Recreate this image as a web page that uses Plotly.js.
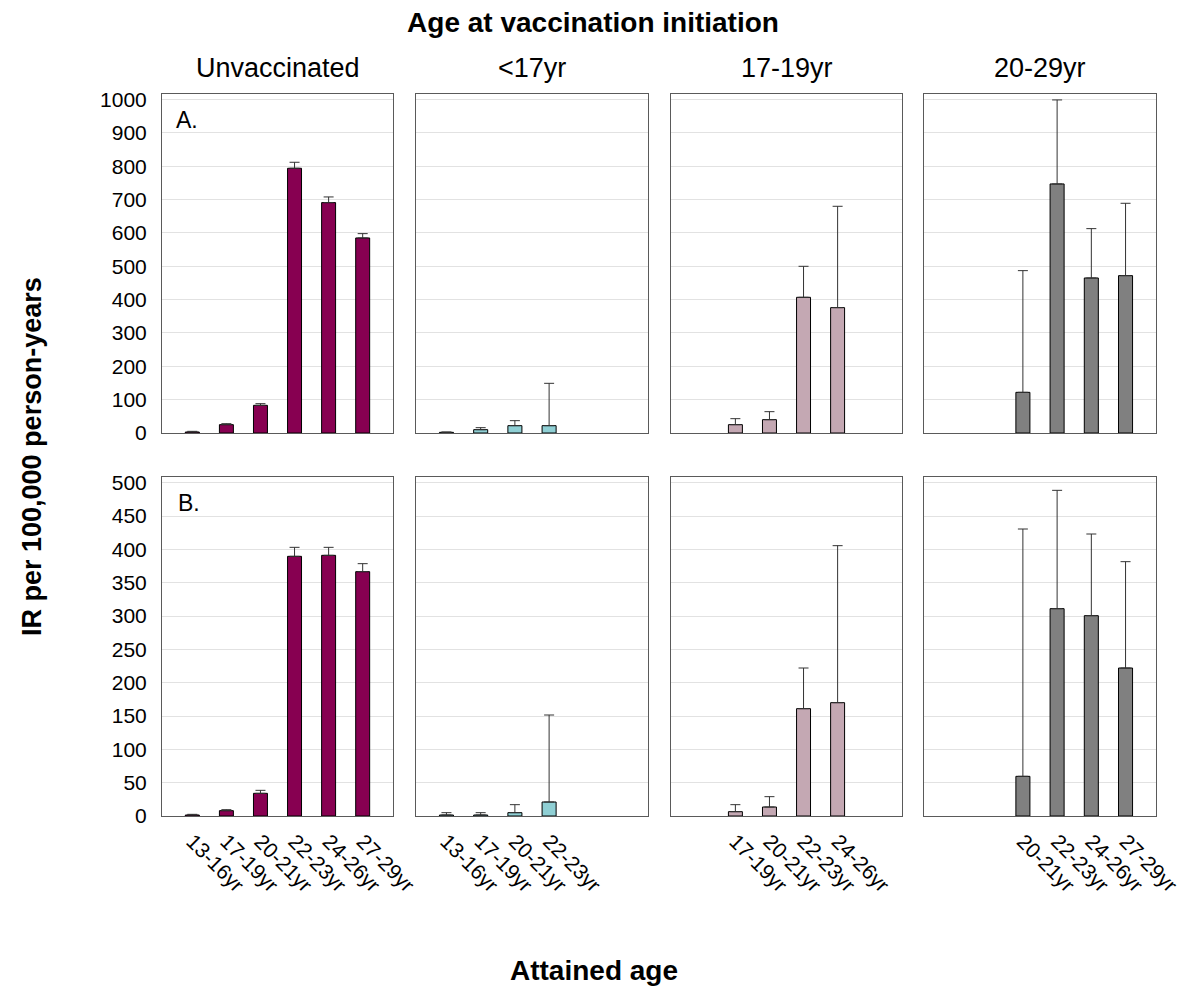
<!DOCTYPE html>
<html><head><meta charset="utf-8">
<script src="https://cdn.plot.ly/plotly-3.0.1.min.js"></script>
<style>html,body{margin:0;padding:0;background:#fff}#chart{width:1184px;height:987px}</style>
</head><body><div id="chart"></div>
<script>
// Categories (attained age)
const categories = ['13-16yr', '17-19yr', '20-21yr', '22-23yr', '24-26yr', '27-29yr'];
const groups = ['Unvaccinated', '<17yr', '17-19yr', '20-29yr'];
const groupColors = ['#870051', '#8FCFD4', '#C4A8B3', '#808080'];

// Panel A: incidence rate, with upper confidence limit
const unvacA = [3, 25, 83, 794, 691, 585];
const unvacA_upper = [5, 28, 88, 812, 708, 598];
const lt17A = [2, 10, 22, 22, null, null];
const lt17A_upper = [3, 16, 37, 149, null, null];
const y1719A = [null, 25, 40, 407, 376, null];
const y1719A_upper = [null, 43, 64, 500, 680, null];
const y2029A = [null, null, 122, 747, 465, 472];
const y2029A_upper = [null, null, 487, 999, 613, 689];

// Panel B
const unvacB = [1.5, 8, 34, 389.5, 391, 366.5];
const unvacB_upper = [2.5, 9.5, 38.5, 403, 403, 378.5];
const lt17B = [1.5, 1.5, 5, 21, null, null];
const lt17B_upper = [5, 5, 17, 151.5, null, null];
const y1719B = [null, 6.5, 13.5, 161, 170, null];
const y1719B_upper = [null, 17, 29, 222, 405.5, null];
const y2029B = [null, null, 59.5, 311, 300.5, 222];
const y2029B_upper = [null, null, 430.5, 488.5, 423, 381.5];

const rowA = [[unvacA, unvacA_upper], [lt17A, lt17A_upper], [y1719A, y1719A_upper], [y2029A, y2029A_upper]];
const rowB = [[unvacB, unvacB_upper], [lt17B, lt17B_upper], [y1719B, y1719B_upper], [y2029B, y2029B_upper]];

const W = 1184, H = 987;
const px = x => x / W;
const py = y => 1 - y / H;
const colPx = [[162, 393], [416, 648], [671, 902], [924, 1156]];
const rowPx = [[94, 433], [477, 816]];
const yMax = [1016.8, 508.5];
const yDtick = [100, 50];

const FONT = 'Liberation Sans, Arial, sans-serif';
const traces = [];
const layout = {
  width: W, height: H,
  margin: {l: 0, r: 0, t: 0, b: 0},
  paper_bgcolor: '#fff', plot_bgcolor: '#fff',
  showlegend: false,
  font: {family: FONT, color: '#000'},
  title: {text: 'Age at vaccination initiation', x: 593 / W, xanchor: 'center',
          y: 1 - 22 / H, yanchor: 'middle',
          font: {family: FONT, size: 28, weight: 'bold', color: '#000'}},
  annotations: []
};

[rowA, rowB].forEach((row, r) => {
  row.forEach((pair, c) => {
    const idx = r * 4 + c + 1;
    const xs = [], ys = [], errs = [];
    pair[0].forEach((v, i) => {
      if (v !== null) { xs.push(i); ys.push(v); errs.push(pair[1][i] - v); }
    });
    const sfx = idx === 1 ? '' : String(idx);
    traces.push({
      type: 'bar', x: xs, y: ys, width: 0.41,
      xaxis: 'x' + sfx, yaxis: 'y' + sfx,
      marker: {color: groupColors[c], line: {color: '#000', width: 1}},
      error_y: {type: 'data', symmetric: false, array: errs, arrayminus: errs.map(() => 0),
                color: '#333', thickness: 1, width: 5},
      hoverinfo: 'x+y'
    });
    layout['xaxis' + sfx] = {
      domain: [px(colPx[c][0]), px(colPx[c][1])],
      anchor: 'y' + sfx,
      range: [-0.89, 5.89],
      tickmode: 'array', tickvals: xs, ticktext: xs.map(i => categories[i]),
      showticklabels: r === 1, tickangle: 45, ticks: '',
      ticklabelstandoff: 4, ticklabeloverflow: 'allow',
      tickfont: {family: FONT, size: 21, color: '#000'},
      showgrid: false, zeroline: false,
      showline: true, mirror: true, linecolor: '#5a5a5a', linewidth: 1,
      fixedrange: true
    };
    layout['yaxis' + sfx] = {
      domain: [py(rowPx[r][1]), py(rowPx[r][0])],
      anchor: 'x' + sfx,
      range: [0, yMax[r]], dtick: yDtick[r], tick0: 0,
      showticklabels: c === 0, ticks: '',
      ticklabelstandoff: 10,
      tickfont: {family: FONT, size: 21, color: '#000'},
      showgrid: true, gridcolor: '#e2e2e2', gridwidth: 1,
      zeroline: false,
      showline: true, mirror: true, linecolor: '#5a5a5a', linewidth: 1,
      fixedrange: true
    };
  });
});

// Column titles
groups.forEach((g, c) => {
  layout.annotations.push({
    text: g, xref: 'paper', yref: 'paper',
    x: px((colPx[c][0] + colPx[c][1]) / 2), y: py(68),
    xanchor: 'center', yanchor: 'middle', showarrow: false,
    font: {family: FONT, size: 27, color: '#000'}
  });
});
// Panel letters
[['A.', 187, 120], ['B.', 189, 503]].forEach(([t, x, y]) => {
  layout.annotations.push({
    text: t, xref: 'paper', yref: 'paper', x: px(x), y: py(y),
    xanchor: 'center', yanchor: 'middle', showarrow: false,
    font: {family: FONT, size: 23, color: '#000'}
  });
});
// Axis titles
layout.annotations.push({
  text: 'IR per 100,000 person-years', xref: 'paper', yref: 'paper',
  x: px(32), y: py(457), textangle: -90, xanchor: 'center', yanchor: 'middle',
  showarrow: false, font: {family: FONT, size: 27, weight: 'bold', color: '#000'}
});
layout.annotations.push({
  text: 'Attained age', xref: 'paper', yref: 'paper',
  x: px(594), y: py(970), xanchor: 'center', yanchor: 'middle',
  showarrow: false, font: {family: FONT, size: 28, weight: 'bold', color: '#000'}
});

Plotly.newPlot('chart', traces, layout, {displayModeBar: false, staticPlot: true});
</script>
</body></html>
